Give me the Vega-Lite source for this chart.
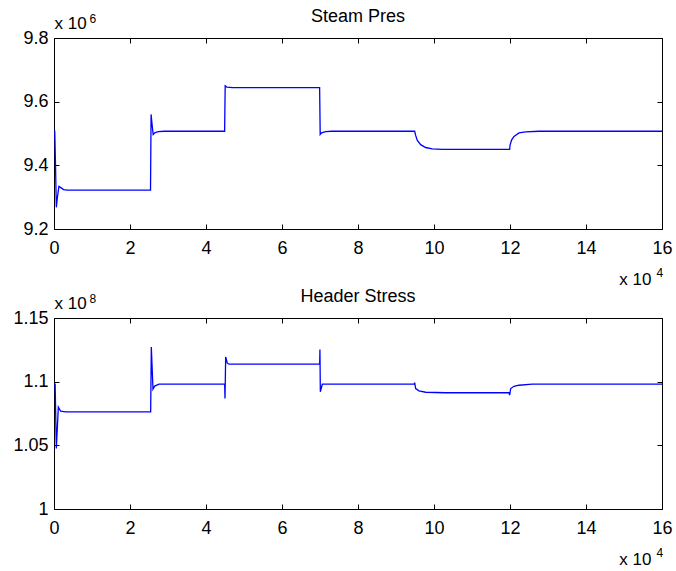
{
  "$schema": "https://vega.github.io/schema/vega-lite/v6.json",
  "background": "white",
  "autosize": {"type": "pad"},
  "padding": {"left": 12, "top": 8, "right": 0, "bottom": 0},
  "bounds": "flush",
  "spacing": 89,
  "config": {
    "font": "Liberation Sans",
    "view": {"stroke": null},
    "axis": {
      "grid": false,
      "domainColor": "black",
      "domainWidth": 1,
      "tickColor": "black",
      "tickWidth": 1,
      "tickSize": -5,
      "labelFont": "Liberation Sans",
      "labelFontSize": 18,
      "labelColor": "black",
      "labelFlush": false,
      "labelOverlap": false,
      "titleFont": "Liberation Sans",
      "titleFontWeight": "normal",
      "titleColor": "black",
      "titlePadding": 0
    },
    "axisX": {"labelPadding": 15},
    "axisY": {"labelPadding": 11},
    "title": {"font": "Liberation Sans", "fontSize": 18, "fontWeight": "normal", "color": "black"}
  },
  "datasets": {
    "steam": [
      {"t": 0, "p": 9.507}, {"t": 0.02, "p": 9.507}, {"t": 0.04, "p": 9.40}, {"t": 0.061, "p": 9.268},
      {"t": 0.09, "p": 9.30}, {"t": 0.13, "p": 9.334}, {"t": 0.18, "p": 9.330}, {"t": 0.25, "p": 9.324},
      {"t": 0.35, "p": 9.322}, {"t": 2.54, "p": 9.322}, {"t": 2.555, "p": 9.560}, {"t": 2.58, "p": 9.530},
      {"t": 2.61, "p": 9.497}, {"t": 2.66, "p": 9.503}, {"t": 2.75, "p": 9.506}, {"t": 2.9, "p": 9.507},
      {"t": 4.49, "p": 9.507}, {"t": 4.505, "p": 9.650}, {"t": 4.55, "p": 9.646}, {"t": 4.7, "p": 9.644},
      {"t": 6.99, "p": 9.644}, {"t": 7.005, "p": 9.497}, {"t": 7.04, "p": 9.502}, {"t": 7.15, "p": 9.506},
      {"t": 7.3, "p": 9.507}, {"t": 9.491, "p": 9.507}, {"t": 9.517, "p": 9.494}, {"t": 9.561, "p": 9.478},
      {"t": 9.649, "p": 9.465}, {"t": 9.781, "p": 9.456}, {"t": 9.956, "p": 9.452}, {"t": 10.219, "p": 9.450},
      {"t": 11.991, "p": 9.450}, {"t": 12.0, "p": 9.463}, {"t": 12.044, "p": 9.480}, {"t": 12.105, "p": 9.491},
      {"t": 12.237, "p": 9.502}, {"t": 12.412, "p": 9.505}, {"t": 12.763, "p": 9.507}, {"t": 16, "p": 9.507}
    ],
    "stress": [
      {"t": 0, "s": 1.098}, {"t": 0.03, "s": 1.098}, {"t": 0.061, "s": 1.0476}, {"t": 0.114, "s": 1.080},
      {"t": 0.175, "s": 1.0768}, {"t": 0.307, "s": 1.0762}, {"t": 2.544, "s": 1.0762}, {"t": 2.561, "s": 1.1273},
      {"t": 2.605, "s": 1.0941}, {"t": 2.649, "s": 1.0965}, {"t": 2.763, "s": 1.098}, {"t": 4.491, "s": 1.098},
      {"t": 4.5, "s": 1.0868}, {"t": 4.518, "s": 1.1194}, {"t": 4.56, "s": 1.1145}, {"t": 4.605, "s": 1.1137},
      {"t": 6.991, "s": 1.1137}, {"t": 6.998, "s": 1.1252}, {"t": 7.009, "s": 1.092}, {"t": 7.061, "s": 1.098},
      {"t": 9.48, "s": 1.098}, {"t": 9.491, "s": 1.0992}, {"t": 9.518, "s": 1.0946}, {"t": 9.605, "s": 1.0928},
      {"t": 9.781, "s": 1.0917}, {"t": 10.307, "s": 1.0913}, {"t": 11.974, "s": 1.0913}, {"t": 11.99, "s": 1.0894},
      {"t": 12.018, "s": 1.0946}, {"t": 12.105, "s": 1.0964}, {"t": 12.237, "s": 1.0972}, {"t": 12.588, "s": 1.098},
      {"t": 16, "s": 1.098}
    ]
  },
  "vconcat": [
    {
      "title": {"text": "Steam Pres", "anchor": "middle", "baseline": "alphabetic", "dy": 32},
      "width": 608,
      "height": 191,
      "data": {"name": "steam"},
      "layer": [
        {
          "mark": {"type": "line", "color": "#0000ff", "strokeWidth": 1.3, "clip": true},
          "encoding": {
            "x": {"field": "t", "type": "quantitative",
              "scale": {"domain": [0, 16], "nice": false, "zero": false},
              "axis": {"orient": "bottom", "values": [0, 2, 4, 6, 8, 10, 12, 14, 16], "format": "~g",
                "title": "x 10", "titleFontSize": 17, "titleAlign": "right", "titleBaseline": "alphabetic",
                "titleX": 597, "titleY": 55}},
            "y": {"field": "p", "type": "quantitative",
              "scale": {"domain": [9.2, 9.8], "nice": false, "zero": false},
              "axis": {"orient": "left", "values": [9.2, 9.4, 9.6, 9.8], "format": ".1f",
                "title": "x 10", "titleFontSize": 17, "titleAngle": 0, "titleAlign": "left", "titleBaseline": "alphabetic",
                "titleX": 0, "titleY": -10}}
          }
        },
        {
          "mark": {"type": "line", "opacity": 0},
          "encoding": {
            "x": {"field": "t", "type": "quantitative",
              "scale": {"domain": [0, 16], "nice": false, "zero": false},
              "axis": {"orient": "top", "values": [0, 2, 4, 6, 8, 10, 12, 14, 16], "labels": false,
                "title": "6", "titleFontSize": 12, "titleAlign": "left", "titleBaseline": "alphabetic",
                "titleX": 35, "titleY": -16}},
            "y": {"field": "p", "type": "quantitative",
              "scale": {"domain": [9.2, 9.8], "nice": false, "zero": false},
              "axis": {"orient": "right", "values": [9.2, 9.4, 9.6, 9.8], "labels": false,
                "title": "4", "titleFontSize": 12, "titleAngle": 0, "titleAlign": "left", "titleBaseline": "alphabetic",
                "titleX": -6, "titleY": 238}}
          }
        }
      ],
      "resolve": {"axis": {"x": "independent", "y": "independent"}}
    },
    {
      "title": {"text": "Header Stress", "anchor": "middle", "baseline": "alphabetic", "dy": 32},
      "width": 608,
      "height": 191,
      "data": {"name": "stress"},
      "layer": [
        {
          "mark": {"type": "line", "color": "#0000ff", "strokeWidth": 1.3, "clip": true},
          "encoding": {
            "x": {"field": "t", "type": "quantitative",
              "scale": {"domain": [0, 16], "nice": false, "zero": false},
              "axis": {"orient": "bottom", "values": [0, 2, 4, 6, 8, 10, 12, 14, 16], "format": "~g",
                "title": "x 10", "titleFontSize": 17, "titleAlign": "right", "titleBaseline": "alphabetic",
                "titleX": 597, "titleY": 55}},
            "y": {"field": "s", "type": "quantitative",
              "scale": {"domain": [1, 1.15], "nice": false, "zero": false},
              "axis": {"orient": "left", "values": [1, 1.05, 1.1, 1.15], "format": "~g",
                "title": "x 10", "titleFontSize": 17, "titleAngle": 0, "titleAlign": "left", "titleBaseline": "alphabetic",
                "titleX": 0, "titleY": -10}}
          }
        },
        {
          "mark": {"type": "line", "opacity": 0},
          "encoding": {
            "x": {"field": "t", "type": "quantitative",
              "scale": {"domain": [0, 16], "nice": false, "zero": false},
              "axis": {"orient": "top", "values": [0, 2, 4, 6, 8, 10, 12, 14, 16], "labels": false,
                "title": "8", "titleFontSize": 12, "titleAlign": "left", "titleBaseline": "alphabetic",
                "titleX": 35, "titleY": -16}},
            "y": {"field": "s", "type": "quantitative",
              "scale": {"domain": [1, 1.15], "nice": false, "zero": false},
              "axis": {"orient": "right", "values": [1, 1.05, 1.1, 1.15], "labels": false,
                "title": "4", "titleFontSize": 12, "titleAngle": 0, "titleAlign": "left", "titleBaseline": "alphabetic",
                "titleX": -6, "titleY": 238}}
          }
        }
      ],
      "resolve": {"axis": {"x": "independent", "y": "independent"}}
    }
  ]
}
